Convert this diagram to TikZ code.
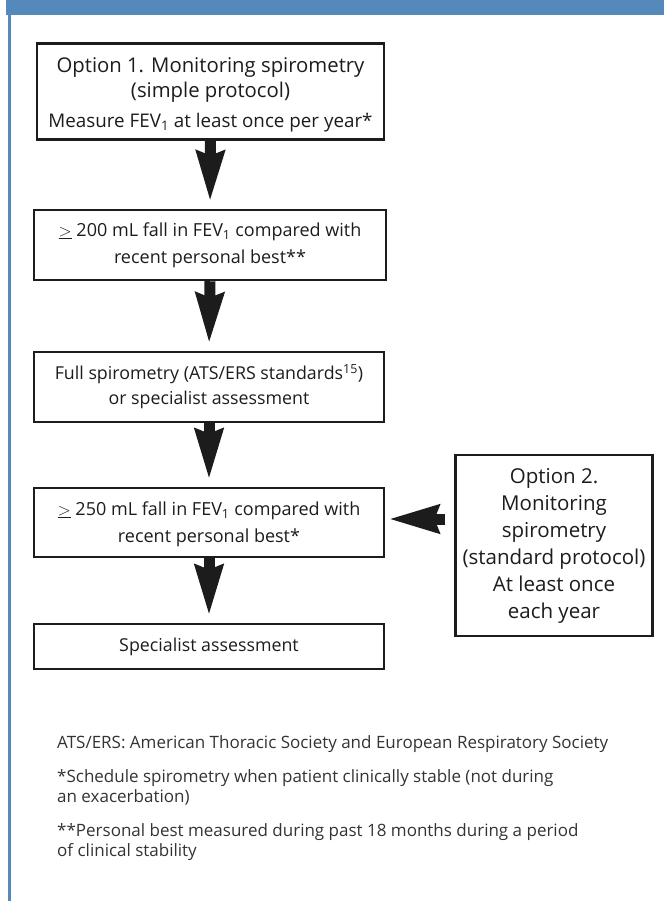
\documentclass[tikz,border=0pt]{standalone}
\usepackage{fontspec}
\setmainfont{Open Sans}
\usetikzlibrary{arrows.meta}
\definecolor{band}{RGB}{84,137,186}
\definecolor{ink}{RGB}{28,28,28}
\newcommand{\titlesize}{\fontsize{20.3}{25}\selectfont}
\newcommand{\plainsize}{\fontsize{18.8}{25}\selectfont}
\begin{document}
\begin{tikzpicture}[x=1pt,y=-1pt,
  flowbox/.style={draw=ink,line width=2.5pt,align=center,inner sep=0pt,text=ink,font=\fontsize{18}{27}\selectfont},
  bigarrow/.style={line width=11pt,draw=ink,-{Stealth[length=50pt,width=27pt,inset=4pt]},shorten >=7pt},
  note/.style={anchor=west,inner sep=0pt,text=ink!90,align=left,font=\fontsize{17}{20}\selectfont}]
\useasboundingbox (0,0) rectangle (664,901);
\fill[band] (6,0) rectangle (664,15);
\fill[band] (8,15) rectangle (10.5,901);
\node[flowbox,minimum width=347pt,minimum height=96pt,font=\titlesize] (b1) at (210.5,91.5)
  {\rule{0pt}{21pt}Option 1. Monitoring spirometry\\(simple protocol)\\[5pt]\plainsize Measure FEV\textsubscript{1} at least once per year*};
\node[flowbox,minimum width=352pt,minimum height=70pt] (b2) at (210,245)
  {$\underline{>}$ 200 mL fall in FEV\textsubscript{1} compared with\\recent personal best**};
\node[flowbox,minimum width=350pt,minimum height=70pt,font=\fontsize{17.8}{25}\selectfont] (b3) at (209,387)
  {Full spirometry (ATS/ERS standards\textsuperscript{15})\\or specialist assessment};
\node[flowbox,minimum width=350pt,minimum height=69pt] (b4) at (209,522.5)
  {\rule{0pt}{17pt}$\underline{>}$ 250 mL fall in FEV\textsubscript{1} compared with\\recent personal best*};
\node[flowbox,minimum width=350pt,minimum height=45pt,font=\fontsize{17.8}{22}\selectfont] (b5) at (209,646.5)
  {Specialist assessment};
\node[flowbox,minimum width=197pt,minimum height=181pt,font=\fontsize{20.5}{27}\selectfont] (b6) at (554,545.5)
  {Option 2.\\Monitoring\\spirometry\\(standard protocol)\\At least once\\each year};
\draw[bigarrow] (b1.south) -- (b2.north);
\draw[bigarrow] (b2.south) -- (b3.north);
\draw[bigarrow] (b3.south) -- (b4.north);
\draw[bigarrow] (b4.south) -- (b5.north);
\draw[bigarrow,shorten <=9pt,shorten >=3pt] ([yshift=3.5pt]b6.west|-b4.east) -- ([yshift=3.5pt]b4.east);
\node[note] (n1) at (57,744) {ATS/ERS: American Thoracic Society and European Respiratory Society};
\node[note] (n2) at (57,787) {*Schedule spirometry when patient clinically stable (not during\\an exacerbation)};
\node[note] (n3) at (57,842) {**Personal best measured during past 18 months during a period\\of clinical stability};
\end{tikzpicture}
\end{document}
